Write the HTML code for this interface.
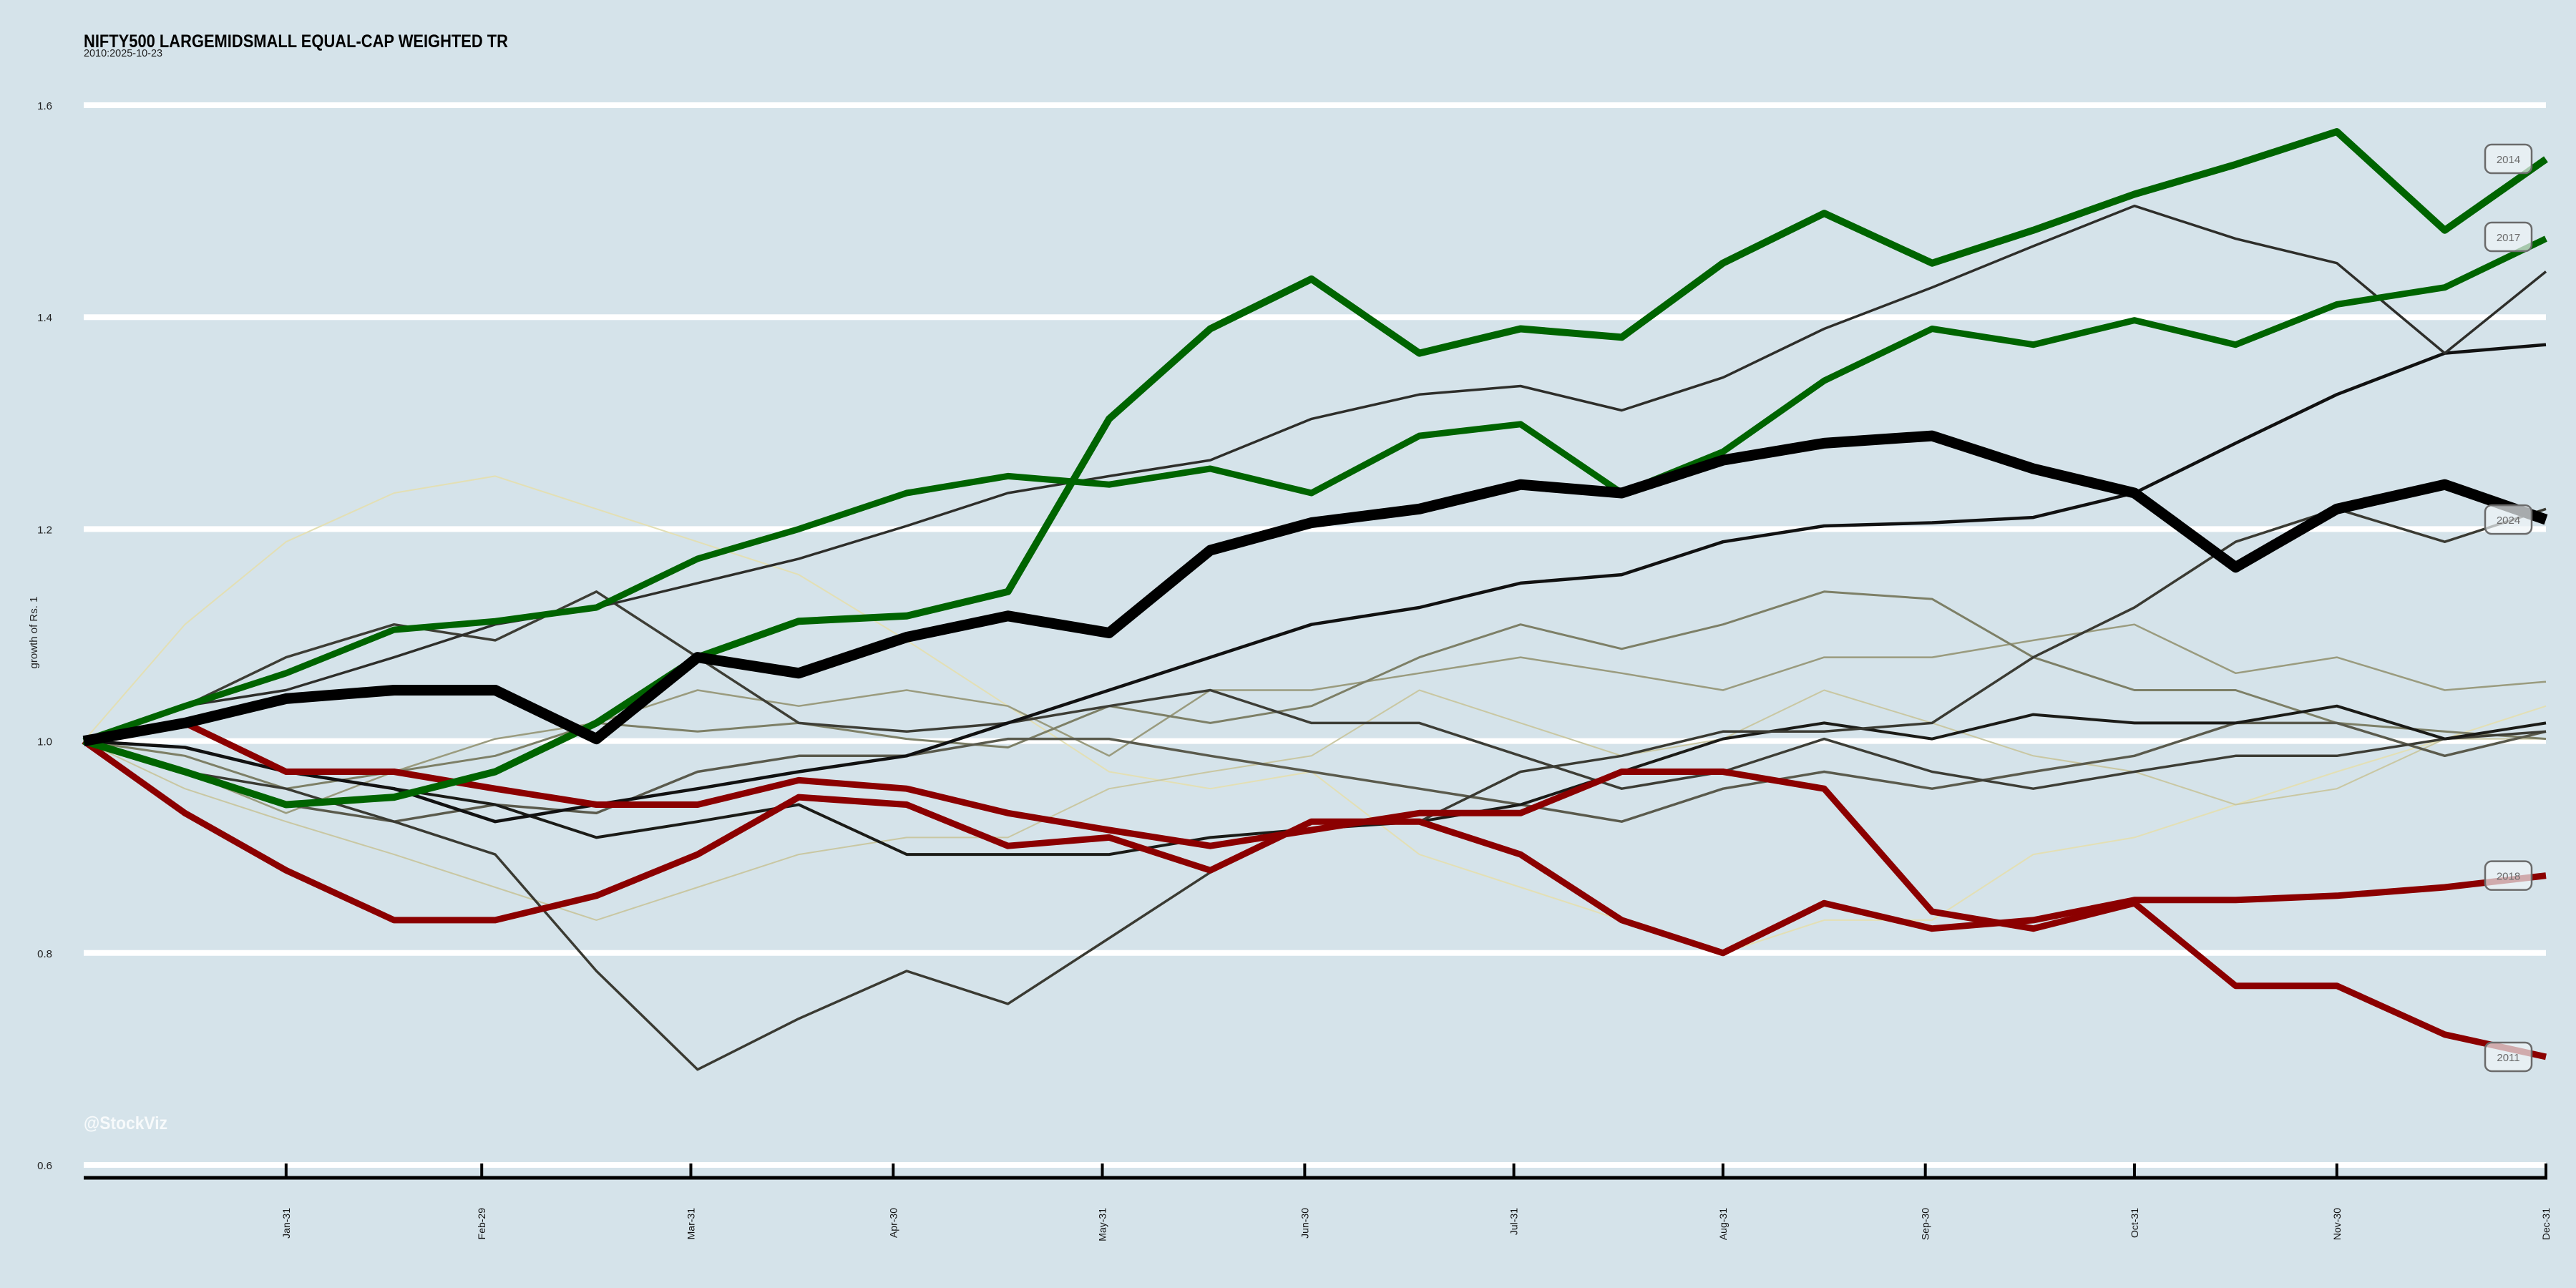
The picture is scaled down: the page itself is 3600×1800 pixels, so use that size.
<!DOCTYPE html>
<html><head><meta charset="utf-8">
<style>
html,body{margin:0;padding:0;background:#d5e3ea;}
body{width:3600px;height:1800px;overflow:hidden;position:relative;font-family:"Liberation Sans",sans-serif;}
svg{position:absolute;left:0;top:0;}
</style></head>
<body>
<svg id="chart" width="3600" height="1800" viewBox="0 0 3600 1800">
<rect x="0" y="0" width="3600" height="1800" fill="#d5e3ea"/>
<text x="117" y="66" font-size="25" font-weight="bold" fill="#000" textLength="593" lengthAdjust="spacingAndGlyphs">NIFTY500 LARGEMIDSMALL EQUAL-CAP WEIGHTED TR</text>
<text x="117" y="79" font-size="15" fill="#222" textLength="110" lengthAdjust="spacingAndGlyphs">2010:2025-10-23</text>
<text transform="translate(52,884) rotate(-90)" font-size="15" text-anchor="middle" fill="#222">growth of Rs. 1</text>
<g id="grid"></g>
<g id="series"></g>
<g id="labels"></g>
<g id="xaxis"></g>
<text x="117" y="1578" font-size="25" font-weight="bold" fill="#ffffff" fill-opacity="0.8" textLength="117" lengthAdjust="spacingAndGlyphs">@StockViz</text>
</svg>
<script>
const yTicks = [0.6, 0.8, 1.0, 1.2, 1.4, 1.6];
const yTickLabels = ["0.6", "0.8", "1.0", "1.2", "1.4", "1.6"];
const xTickDays = [30, 59, 90, 120, 151, 181, 212, 243, 273, 304, 334, 365];
const xTickLabels = ["Jan-31","Feb-29","Mar-31","Apr-30","May-31","Jun-30","Jul-31","Aug-31","Sep-30","Oct-31","Nov-30","Dec-31"];
const dates = [0,15,30,46,61,76,91,106,122,137,152,167,182,198,213,228,243,258,274,289,304,319,334,350,365];

const sI = [1.0,1.110,1.188,1.234,1.250,1.219,1.188,1.157,1.095,1.033,0.971,0.955,0.971,0.893,0.862,0.831,0.800,0.831,0.831,0.893,0.909,0.940,0.971,1.002,1.033];
const sJ = [1.0,0.955,0.924,0.893,0.862,0.831,0.862,0.893,0.909,0.909,0.955,0.971,0.986,1.048,1.017,0.986,1.002,1.048,1.017,0.986,0.971,0.940,0.955,1.002,1.002];
const sG = [1.0,0.971,0.932,0.971,1.002,1.017,1.048,1.033,1.048,1.033,0.986,1.048,1.048,1.064,1.079,1.064,1.048,1.079,1.079,1.095,1.110,1.064,1.079,1.048,1.056];
const sH = [1.0,0.986,0.955,0.971,0.986,1.017,1.009,1.017,1.002,0.994,1.033,1.017,1.033,1.079,1.110,1.087,1.110,1.141,1.134,1.079,1.048,1.048,1.017,1.009,1.002];
const sF = [1.0,0.971,0.940,0.924,0.940,0.932,0.971,0.986,0.986,1.002,1.002,0.986,0.971,0.955,0.940,0.924,0.955,0.971,0.955,0.971,0.986,1.017,1.017,0.986,1.009];
const sE = [1.0,1.033,1.079,1.110,1.095,1.141,1.079,1.017,1.009,1.017,1.033,1.048,1.017,1.017,0.986,0.955,0.971,1.002,0.971,0.955,0.971,0.986,0.986,1.002,1.009];
const sD = [1.0,0.994,0.971,0.955,0.940,0.909,0.924,0.940,0.893,0.893,0.893,0.909,0.917,0.924,0.940,0.971,1.002,1.017,1.002,1.025,1.017,1.017,1.033,1.002,1.017];
const sC = [1.0,0.971,0.955,0.924,0.893,0.783,0.690,0.738,0.783,0.752,0.814,0.876,0.924,0.924,0.971,0.986,1.009,1.009,1.017,1.079,1.126,1.188,1.219,1.188,1.219];
const sB = [1.0,0.994,0.971,0.955,0.924,0.940,0.955,0.971,0.986,1.017,1.048,1.079,1.110,1.126,1.149,1.157,1.188,1.203,1.206,1.211,1.234,1.281,1.327,1.366,1.374];
const sA = [1.0,1.033,1.048,1.079,1.110,1.126,1.149,1.172,1.203,1.234,1.250,1.265,1.304,1.327,1.335,1.312,1.343,1.389,1.428,1.467,1.505,1.474,1.451,1.366,1.443];
const s2011 = [1.0,1.017,0.971,0.971,0.955,0.940,0.940,0.963,0.955,0.932,0.916,0.901,0.916,0.932,0.932,0.971,0.971,0.955,0.839,0.823,0.847,0.769,0.769,0.723,0.702];
const s2018 = [1.0,0.932,0.878,0.831,0.831,0.854,0.893,0.947,0.940,0.901,0.909,0.878,0.924,0.924,0.893,0.831,0.800,0.847,0.823,0.831,0.850,0.850,0.854,0.862,0.873];
const s2017 = [1.0,1.033,1.064,1.105,1.113,1.126,1.172,1.200,1.234,1.250,1.242,1.257,1.234,1.288,1.299,1.234,1.273,1.340,1.389,1.374,1.397,1.374,1.412,1.428,1.474];
const s2014 = [1.0,0.971,0.940,0.947,0.971,1.017,1.079,1.113,1.118,1.141,1.304,1.389,1.436,1.366,1.389,1.381,1.451,1.498,1.451,1.482,1.516,1.544,1.575,1.482,1.549];
const s2024 = [1.0,1.017,1.040,1.048,1.048,1.002,1.079,1.064,1.098,1.118,1.102,1.180,1.206,1.219,1.242,1.234,1.265,1.281,1.288,1.257,1.234,1.164,1.219,1.242,1.209];

const X0 = 117, X1 = 3558, Y_TOP = 147, Y_BOT = 1628;
function xS(d){ return X0 + d/365*(X1-X0); }
function yS(v){ return Y_TOP + (1.6 - v)/(1.6-0.6)*(Y_BOT-Y_TOP); }
const NS = "http://www.w3.org/2000/svg";

const grid = document.getElementById('grid');
yTicks.forEach((t,i)=>{
  const l = document.createElementNS(NS,'line');
  l.setAttribute('x1',X0); l.setAttribute('x2',X1);
  l.setAttribute('y1',yS(t)); l.setAttribute('y2',yS(t));
  l.setAttribute('stroke','#ffffff'); l.setAttribute('stroke-width','8');
  
  
  grid.appendChild(l);
  const tx = document.createElementNS(NS,'text');
  tx.setAttribute('x',73); tx.setAttribute('y',yS(t)+6);
  tx.setAttribute('font-size','15'); tx.setAttribute('text-anchor','end'); tx.setAttribute('fill','#222');
  tx.textContent = yTickLabels[i];
  
  
  grid.appendChild(tx);
});

const seriesDefs = [
  {v:sI, c:'#e3dfb4', w:2, n:'series-faint-1'},
  {v:sJ, c:'#c9c7a2', w:2, n:'series-faint-2'},
  {v:sG, c:'#9a9b7e', w:2.5, n:'series-olive-1'},
  {v:sH, c:'#7d7f66', w:3, n:'series-olive-2'},
  {v:sF, c:'#5a5a4c', w:3.5, n:'series-gray-1'},
  {v:sE, c:'#3d3d35', w:3.5, n:'series-gray-2'},
  {v:sD, c:'#1b1b17', w:4, n:'series-dark-1'},
  {v:sC, c:'#3a3a32', w:3.5, n:'series-gray-3'},
  {v:sB, c:'#111111', w:4.5, n:'series-dark-2'},
  {v:sA, c:'#2e2e2a', w:3.5, n:'series-gray-4'},
  {v:s2011, c:'#8b0000', w:9, n:'series-2011'},
  {v:s2018, c:'#8b0000', w:9, n:'series-2018'},
  {v:s2017, c:'#006400', w:9, n:'series-2017'},
  {v:s2014, c:'#006400', w:10, n:'series-2014'},
  {v:s2024, c:'#000000', w:15, n:'series-2024'}
];
const sg = document.getElementById('series');
seriesDefs.forEach(s=>{
  const p = document.createElementNS(NS,'polyline');
  p.setAttribute('points', s.v.map((v,i)=>xS(dates[i]).toFixed(1)+','+yS(v).toFixed(1)).join(' '));
  p.setAttribute('fill','none'); p.setAttribute('stroke',s.c); p.setAttribute('stroke-width',s.w);
  p.setAttribute('stroke-linejoin','round');
  
  
  sg.appendChild(p);
});

const labelYears = ["2014","2017","2024","2018","2011"];
const labelSeries = [s2014, s2017, s2024, s2018, s2011];
const lg = document.getElementById('labels');
labelYears.forEach((yr,i)=>{
  const arr = labelSeries[i];
  let cy = yS(arr[arr.length-1]);
  if (yr === "2014") cy = 222;
  if (yr === "2017") cy = 331;
  const r = document.createElementNS(NS,'rect');
  r.setAttribute('x',3473); r.setAttribute('y',cy-20); r.setAttribute('width',65); r.setAttribute('height',40);
  r.setAttribute('rx',9); r.setAttribute('fill','#eef4f7'); r.setAttribute('fill-opacity','0.7');
  r.setAttribute('stroke','#6b6b6b'); r.setAttribute('stroke-width','2.5');
  
  
  lg.appendChild(r);
  const t = document.createElementNS(NS,'text');
  t.setAttribute('x',3505.5); t.setAttribute('y',cy+6); t.setAttribute('font-size','15');
  t.setAttribute('text-anchor','middle'); t.setAttribute('fill','#6b6b6b');
  t.textContent = yr;
  
  
  lg.appendChild(t);
});

const xa = document.getElementById('xaxis');
const axl = document.createElementNS(NS,'line');
axl.setAttribute('x1',X0); axl.setAttribute('x2',X1+2); axl.setAttribute('y1',1646); axl.setAttribute('y2',1646);
axl.setAttribute('stroke','#000'); axl.setAttribute('stroke-width','5');


xa.appendChild(axl);
xTickDays.forEach((d,i)=>{
  const x = xS(d);
  const tk = document.createElementNS(NS,'line');
  tk.setAttribute('x1',x); tk.setAttribute('x2',x); tk.setAttribute('y1',1626); tk.setAttribute('y2',1646);
  tk.setAttribute('stroke','#000'); tk.setAttribute('stroke-width','4');
  
  
  xa.appendChild(tk);
  const t = document.createElementNS(NS,'text');
  t.setAttribute('transform','translate('+(x+5)+',1688) rotate(-90)');
  t.setAttribute('font-size','14'); t.setAttribute('text-anchor','end'); t.setAttribute('fill','#111');
  t.textContent = xTickLabels[i];
  
  
  xa.appendChild(t);
});
</script>
</body></html>
